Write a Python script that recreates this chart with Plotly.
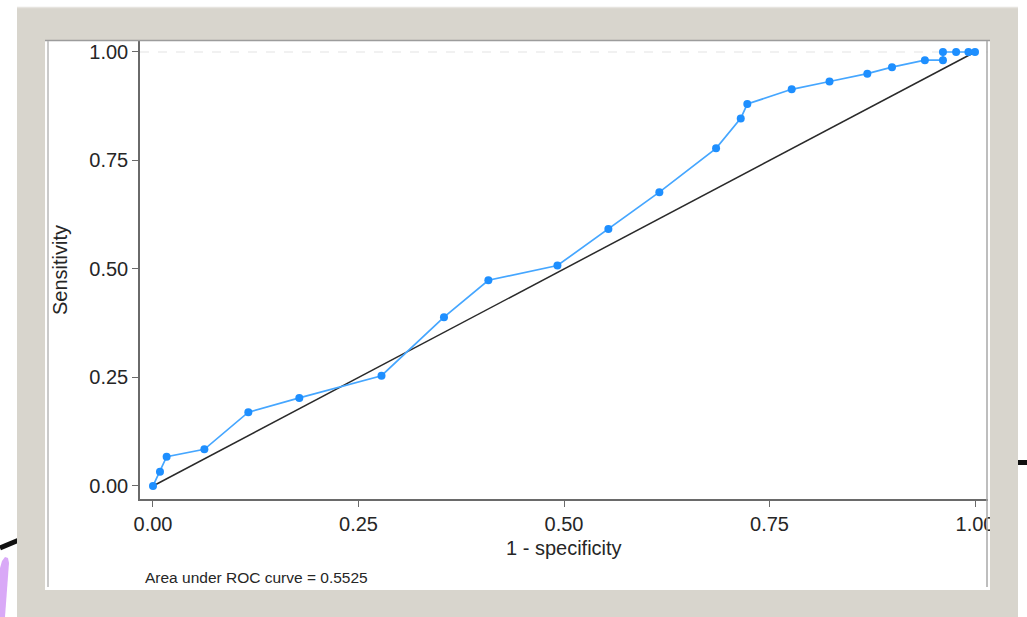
import plotly.graph_objects as go

# ROC curve coordinates (1 - specificity, sensitivity)
fpr = [0.0, 0.0085, 0.0166, 0.0625, 0.116, 0.178, 0.278, 0.354, 0.408, 0.492,
       0.554, 0.616, 0.685, 0.715, 0.723, 0.777, 0.823, 0.869, 0.899, 0.939,
       0.961, 0.961, 0.977, 0.992, 1.0]
tpr = [0.0, 0.033, 0.0676, 0.0845, 0.170, 0.203, 0.254, 0.389, 0.474, 0.508,
       0.592, 0.677, 0.778, 0.847, 0.880, 0.914, 0.932, 0.950, 0.965, 0.981,
       0.981, 1.0, 1.0, 1.0, 1.0]
ref_x = [0.0, 1.0]
ref_y = [0.0, 1.0]

tick_vals = [0.0, 0.25, 0.5, 0.75, 1.0]
tick_text = ["0.00", "0.25", "0.50", "0.75", "1.00"]
x_title = "1 - specificity"
y_title = "Sensitivity"
note = "Area under ROC curve = 0.5525"

W, H = 1027, 617
L, R, T, B = 140, 988, 40, 499  # plot area edges in pixels

FONT = "Liberation Sans, Arial, sans-serif"
FRAME = "#d8d5cd"


def px(x):
    return (x - L) / (R - L)


def py(y):
    return (B - y) / (B - T)


def rect(x0, y0, x1, y1, color, layer="above"):
    return dict(type="rect", xref="paper", yref="paper",
                x0=px(x0), x1=px(x1), y0=py(y1), y1=py(y0),
                fillcolor=color, line=dict(width=0), layer=layer)


def seg(x0, y0, x1, y1, color, width, layer="above", dash="solid"):
    return dict(type="line", xref="paper", yref="paper",
                x0=px(x0), x1=px(x1), y0=py(y0), y1=py(y1),
                line=dict(color=color, width=width, dash=dash), layer=layer)


def path(points, color):
    d = "M " + " L ".join(f"{px(a):.5f},{py(b):.5f}" for a, b in points) + " Z"
    return dict(type="path", xref="paper", yref="paper", path=d,
                fillcolor=color, line=dict(width=0), layer="above")


fig = go.Figure()

fig.add_trace(go.Scatter(
    x=ref_x, y=ref_y, mode="lines",
    line=dict(color="#2a2a2a", width=1.5), hoverinfo="skip", showlegend=False))

fig.add_trace(go.Scatter(
    x=fpr, y=tpr, mode="lines+markers",
    line=dict(color="#45a6ff", width=1.7),
    marker=dict(color="#1e8fff", size=8),
    showlegend=False))

shapes = [
    # faint dashed line along the top of the plot region
    dict(type="line", xref="paper", yref="y", x0=0, x1=1, y0=1, y1=1,
         line=dict(color="#ededed", width=1.5, dash="dash"), layer="below"),
    # slide decorations behind the framed picture
    seg(0, 548, 19, 540, "#111111", 5),
    seg(1016, 462.5, 1027, 462.5, "#111111", 5),
    path([(0, 568), (2, 561), (5, 557), (8, 558), (9, 563), (5, 617), (0, 617)], "#d9a9f7"),
    # picture frame
    rect(17, 7, 1018, 40, FRAME),
    rect(17, 590, 1018, 617, FRAME),
    rect(17, 7, 45, 617, FRAME),
    rect(990, 7, 1018, 617, FRAME),
    # inner panel edges
    seg(45, 40.5, 990, 40.5, "#9c9c9c", 1.5),
    seg(48, 41, 48, 587, "#b8b8b8", 1.5),
    seg(987, 41, 987, 587, "#a8a8a8", 1.5),
    seg(17, 7.5, 1018, 7.5, "#e6e4df", 1.5),
]

annotations = [
    dict(text=x_title, xref="paper", yref="paper", x=px(564), y=py(548),
         xanchor="center", yanchor="middle", showarrow=False,
         font=dict(family=FONT, size=20, color="#262626")),
    dict(text=y_title, xref="paper", yref="paper", x=px(60), y=py(270),
         xanchor="center", yanchor="middle", textangle=-90, showarrow=False,
         font=dict(family=FONT, size=20, color="#262626")),
    dict(text=note, xref="paper", yref="paper", x=px(143), y=py(577),
         xanchor="left", yanchor="middle", showarrow=False,
         font=dict(family=FONT, size=15.5, color="#262626")),
]

axis_common = dict(
    showgrid=False, zeroline=False, showline=True,
    linecolor="#6a6a6a", linewidth=1.5,
    ticks="outside", ticklen=6, tickwidth=1.2, tickcolor="#6a6a6a",
    tickvals=tick_vals, ticktext=tick_text,
    tickfont=dict(family=FONT, size=20, color="#262626"),
)

fig.update_layout(
    width=W, height=H, autosize=False,
    margin=dict(l=L, r=W - R, t=T, b=H - B, pad=0),
    paper_bgcolor="white", plot_bgcolor="white",
    xaxis=dict(range=[-0.0158, 1.0158], **axis_common),
    yaxis=dict(range=[-0.030, 1.0276], **axis_common),
    shapes=shapes, annotations=annotations,
    showlegend=False,
)

fig.write_html("out.html")
